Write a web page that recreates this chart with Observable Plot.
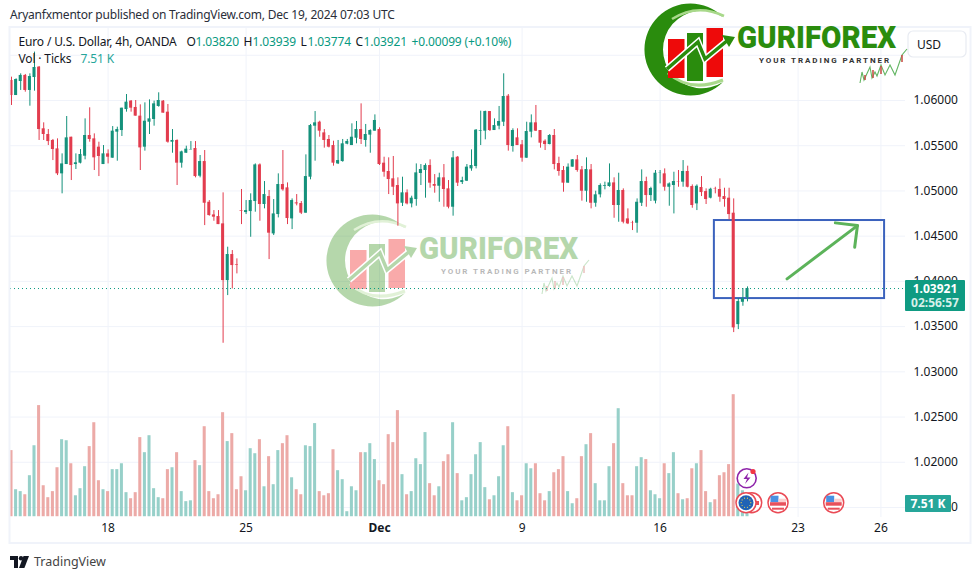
<!DOCTYPE html>
<html><head><meta charset="utf-8">
<script src="https://cdn.jsdelivr.net/npm/d3@7"></script>
<script src="https://cdn.jsdelivr.net/npm/@observablehq/plot@0.6"></script>
<style>
html,body{margin:0;padding:0;background:#fff;width:980px;height:579px;overflow:hidden}
body{font-family:"Noto Sans",sans-serif;color:#131722}
#head{height:26px;box-sizing:border-box;padding:7px 0 0 10px;font-size:12px;line-height:16px;color:#2a2e39;letter-spacing:-.22px}
#foot{height:35px;display:flex;align-items:center;padding-left:10px;font-size:12.5px;color:#444;position:relative}
#foot svg{margin-right:5px}
svg text{font-family:"Noto Sans",sans-serif}
.lg text{letter-spacing:-.15px}
</style></head><body>
<div id="head">Aryanfxmentor published on TradingView.com, Dec 19, 2024 07:03 UTC</div>
<div id="chart"></div>
<div id="foot"><svg width="19" height="12" viewBox="0 0 19 12"><path d="M0 0h8v12H4V4H0z" fill="#131722"/><circle cx="11" cy="2.3" r="2.2" fill="#131722"/><path d="M13.5 0H19l-4.6 12H9z" fill="#131722"/></svg>TradingView</div>
<script>
const highs=[
1.06258,1.06240,1.06295,1.06288,1.06295,1.06535,1.06376,1.05753,1.05679,1.05569,
1.05576,1.05410,1.05823,1.05594,1.05410,1.05458,1.05797,1.05919,1.05631,1.05539,
1.05502,1.05454,1.05712,1.05705,1.05915,1.06066,1.06000,1.06000,1.05952,1.05974,
1.06007,1.05993,1.06085,1.06000,1.05956,1.05679,1.05565,1.05440,1.05495,1.05546,
1.05546,1.05392,1.05447,1.04894,1.04783,1.04783,1.04979,1.04378,1.04341,1.04249,
1.05016,1.04894,1.04968,1.05299,1.05299,1.05104,1.05005,1.04905,1.05189,1.05447,
1.05089,1.04912,1.04960,1.04883,1.05399,1.05735,1.05878,1.05771,1.05679,1.05613,
1.05550,1.05558,1.05569,1.05569,1.05742,1.05768,1.05963,1.05735,1.05676,1.05841,
1.05698,1.05373,1.05366,1.05381,1.05145,1.05152,1.05012,1.04942,1.05299,1.05292,
1.05299,1.05344,1.05181,1.05196,1.05292,1.05115,1.05436,1.05381,1.05152,1.05292,
1.05454,1.05679,1.05882,1.05882,1.05878,1.05797,1.05934,1.06295,1.06066,1.05687,
1.05687,1.05558,1.05760,1.05841,1.05945,1.05668,1.05565,1.05624,1.05679,1.05373,
1.05270,1.05299,1.05347,1.05392,1.05270,1.05366,1.05292,1.04997,1.05078,1.05097,
1.05299,1.05145,1.05196,1.05023,1.04802,1.04665,1.04912,1.05233,1.05152,1.05041,
1.05226,1.05226,1.05244,1.05089,1.05207,1.05226,1.05336,1.05274,1.05067,1.05067,
1.05159,1.05023,1.05030,1.05041,1.05134,1.05030,1.05030,1.04912,1.03810,1.03920,1.03939];
const bodyTops=[
1.06221,1.06232,1.06277,1.06277,1.06265,1.06365,1.06369,1.05687,1.05624,1.05558,
1.05465,1.05299,1.05587,1.05594,1.05311,1.05403,1.05613,1.05613,1.05576,1.05484,
1.05410,1.05410,1.05661,1.05679,1.05915,1.05982,1.05993,1.05923,1.05827,1.05771,
1.05797,1.05963,1.06000,1.05993,1.05871,1.05558,1.05558,1.05432,1.05462,1.05458,
1.05469,1.05325,1.05325,1.04875,1.04735,1.04717,1.04636,1.04297,1.04297,1.04186,
1.04783,1.04783,1.04894,1.05288,1.05288,1.04960,1.04938,1.04746,1.05071,1.05071,
1.05034,1.04894,1.04868,1.04861,1.05159,1.05723,1.05753,1.05760,1.05642,1.05569,
1.05502,1.05336,1.05521,1.05547,1.05594,1.05679,1.05679,1.05624,1.05668,1.05779,
1.05679,1.05307,1.05215,1.05134,1.05060,1.04979,1.04979,1.04920,1.05200,1.05237,
1.05281,1.05281,1.05071,1.05145,1.05145,1.05023,1.05366,1.05373,1.05115,1.05263,
1.05281,1.05672,1.05668,1.05878,1.05878,1.05723,1.05768,1.06044,1.06048,1.05668,
1.05587,1.05510,1.05657,1.05753,1.05753,1.05668,1.05550,1.05613,1.05613,1.05303,
1.05226,1.05263,1.05344,1.05344,1.05233,1.05237,1.05233,1.04957,1.05060,1.05060,
1.05089,1.05089,1.05005,1.05005,1.04691,1.04651,1.04875,1.05104,1.05104,1.05027,
1.05196,1.05196,1.05189,1.05078,1.05104,1.05104,1.05215,1.05215,1.05049,1.05052,
1.05038,1.04993,1.05019,1.05023,1.05016,1.04938,1.04920,1.04754,1.03777,1.03810,1.03921];
const bodyBottoms=[
1.06055,1.06055,1.06210,1.06111,1.06111,1.06254,1.05679,1.05624,1.05546,1.05458,
1.05189,1.05189,1.05292,1.05281,1.05292,1.05307,1.05384,1.05569,1.05366,1.05381,
1.05292,1.05373,1.05362,1.05650,1.05668,1.05900,1.05915,1.05827,1.05476,1.05484,
1.05760,1.05790,1.05934,1.05860,1.05539,1.05539,1.05307,1.05307,1.05417,1.05454,
1.05159,1.05163,1.04864,1.04728,1.04710,1.04628,1.04009,1.04009,1.04175,1.04179,
1.04776,1.04761,1.04772,1.04883,1.04850,1.04850,1.04533,1.04525,1.04739,1.05012,
1.04695,1.04691,1.04857,1.04754,1.04754,1.05152,1.05716,1.05661,1.05558,1.05484,
1.05307,1.05299,1.05325,1.05517,1.05502,1.05583,1.05569,1.05558,1.05617,1.05661,
1.05292,1.05207,1.05126,1.05041,1.04857,1.04864,1.04857,1.04857,1.04905,1.05193,
1.05226,1.05086,1.05052,1.05052,1.05016,1.04820,1.04820,1.05086,1.05093,1.05108,
1.05244,1.05270,1.05661,1.05661,1.05668,1.05668,1.05716,1.05760,1.05502,1.05491,
1.05502,1.05362,1.05362,1.05650,1.05661,1.05528,1.05513,1.05513,1.05292,1.05215,
1.05086,1.05086,1.05263,1.05226,1.04997,1.04997,1.04864,1.04864,1.04957,1.05052,
1.05049,1.04839,1.04839,1.04654,1.04636,1.04647,1.04643,1.04864,1.04949,1.04949,
1.04887,1.05193,1.05041,1.05041,1.05060,1.05100,1.05097,1.05041,1.04839,1.04857,
1.04982,1.04905,1.04920,1.05019,1.04931,1.04905,1.04739,1.03486,1.03522,1.03769,1.03820];
const lows=[
1.05945,1.06055,1.06111,1.06092,1.05937,1.06103,1.05558,1.05558,1.05502,1.05336,
1.05170,1.04968,1.05292,1.05115,1.05237,1.05299,1.05344,1.05539,1.05226,1.05159,
1.05292,1.05299,1.05362,1.05329,1.05602,1.05871,1.05871,1.05827,1.05226,1.05440,
1.05624,1.05716,1.05926,1.05860,1.05528,1.05417,1.05060,1.05252,1.05417,1.05454,
1.05145,1.05145,1.04617,1.04721,1.04665,1.04628,1.03316,1.03843,1.03917,1.04083,
1.04628,1.04739,1.04488,1.04765,1.04665,1.04802,1.04241,1.04507,1.04702,1.04997,
1.04628,1.04573,1.04835,1.04739,1.04754,1.05123,1.05329,1.05594,1.05473,1.05476,
1.05274,1.05292,1.05318,1.05510,1.05502,1.05521,1.05513,1.05484,1.05417,1.05661,
1.05281,1.05152,1.04960,1.04949,1.04610,1.04828,1.04846,1.04813,1.04831,1.05060,
1.04920,1.05030,1.04975,1.04875,1.04820,1.04802,1.04721,1.05049,1.05071,1.05104,
1.05218,1.05244,1.05502,1.05565,1.05657,1.05668,1.05676,1.05712,1.05440,1.05429,
1.05502,1.05318,1.05362,1.05587,1.05657,1.05473,1.05447,1.05510,1.05233,1.05163,
1.04986,1.05086,1.05263,1.05207,1.04887,1.04875,1.04802,1.04820,1.04923,1.05012,
1.05041,1.04698,1.04654,1.04636,1.04628,1.04562,1.04533,1.04828,1.04820,1.04883,
1.04857,1.05078,1.04997,1.04831,1.04746,1.05041,1.05041,1.05034,1.04809,1.04783,
1.04938,1.04850,1.04912,1.04968,1.04875,1.04820,1.04680,1.03434,1.03467,1.03725,1.03774];
// R = close below open, G = close above open
const directions=
"RGGRGGRRRR"+"RGGRGGGRRR"+"GRGGGGRRRG"+"GGGRRGRGGG"+"RGRRRRRGRR"+
"RGGGRGRGGR"+"RGRRGGGRRR"+"RGGGGGRGGG"+"RRRRRGRGGG"+"GRRGRRGRGG"+
"GGGGRGGGRG"+"RRGGRRRGRR"+"RGGRRGRGGG"+"GRGRRRGGRG"+"GGRGGRGRRG"+"RRGRRRRRGGG";
// volume in thousands of ticks
const volumes=[
38.2,15.6,14.5,12.7,23.7,41.0,64.2,17.9,11.0,14.5,
28.3,44.5,43.9,30.6,12.1,16.2,28.9,40.5,54.3,20.8,
15.6,14.5,27.2,27.2,30.6,13.9,10.4,13.9,45.7,37.0,
46.8,16.2,11.0,10.4,27.2,28.3,37.0,14.5,8.7,9.2,
32.4,29.5,52.0,14.5,10.4,12.7,60.1,43.4,48.0,15.6,
23.1,15.0,39.3,36.4,44.5,17.3,34.7,18.5,38.2,42.2,
46.8,22.5,15.6,12.7,41.0,40.5,53.8,14.5,12.1,13.3,
38.7,26.6,21.4,2.9,17.3,15.0,37.0,37.0,42.2,33.0,
20.8,18.5,47.4,42.8,61.3,24.3,12.7,14.5,33.5,30.1,
48.6,19.1,12.1,17.3,31.8,35.8,54.3,24.9,9.2,11.0,
24.3,35.8,42.8,16.8,9.8,12.1,23.1,41.0,52.0,13.9,
9.2,12.1,30.6,27.7,30.6,13.3,9.2,14.5,25.4,27.2,
34.7,14.5,7.5,10.4,34.7,41.6,48.0,19.1,9.2,9.2,
28.9,42.2,62.4,19.1,12.1,12.1,28.9,34.1,33.0,15.0,
12.7,10.4,30.6,24.9,37.0,13.3,9.8,10.4,27.7,30.6,
38.2,14.5,8.1,9.8,23.7,25.4,30.1,70.5,18.9,15.0,7.51];
const priceTicks=[1.06,1.055,1.05,1.045,1.04,1.035,1.03,1.025,1.02,1.015];
const gridPrices=[1.065,...priceTicks];
const dayIndex=[21,51,80,111,141,171,189];
const dayLabels=["18","25","Dec","9","16","23","26"];
const lastPrice=1.03921;
const boxX=[152.8,189.8], boxY=[1.0381,1.04673];
const arrowShaft=[{x:168.6,y:1.04028},{x:183.9,y:1.04617}];
const arrowHead=[{x:179.1,y:1.04647},{x:183.9,y:1.04617},{x:183.3,y:1.04377}];
const volBase=1.01398, volUnit=0.0001914;

const GREEN="#14917b", RED="#e23c4e", VGREEN="#97d0c9", VRED="#ecaaa7", GRID="#f0f3fa", PAGE_TOP=26;
const rows=highs.map((h,i)=>({i,high:h,top:bodyTops[i],bottom:bodyBottoms[i],low:lows[i],vol:volumes[i],up:directions[i]==="G"}));
const halfBar=0.33;

function candles(filter,color){return [
  Plot.ruleX(rows.filter(filter),{x:"i",y1:"low",y2:"high",stroke:color,strokeWidth:1}),
  Plot.rect(rows.filter(filter),{x1:d=>d.i-halfBar,x2:d=>d.i+halfBar,y1:"bottom",y2:"top",fill:color})
];}
function volBars(filter,color){return Plot.rect(rows.filter(filter),{x1:d=>d.i-halfBar,x2:d=>d.i+halfBar,y1:()=>volBase,y2:d=>volBase+d.vol*volUnit,fill:color});}

function drawLogo(g){
  g.attr("text-anchor","start");
  g.append("path").attr("d","M723 17A46 46 0 1 0 723 82A38.8 38.8 0 1 1 723 17Z").attr("fill","#2a8c0d");
  g.append("path").attr("d","M672 19Q697 3 724 16").attr("fill","none").attr("stroke","#a9d98b").attr("stroke-width",2.5);
  g.append("path").attr("d","M668 73Q690 93 723 80").attr("fill","none").attr("stroke","#a9d98b").attr("stroke-width",3);
  g.append("rect").attr("x",668).attr("y",39).attr("width",16.5).attr("height",39).attr("fill","#ee0a0a");
  g.append("rect").attr("x",687).attr("y",33).attr("width",16).attr("height",48).attr("fill","#2a8c0d");
  g.append("rect").attr("x",706.5).attr("y",28).attr("width",16.5).attr("height",49).attr("fill","#ee0a0a");
  const zig="M667 69L698 42L705 59L728 40";
  g.append("path").attr("d",zig).attr("fill","none").attr("stroke","#fff").attr("stroke-width",6.5);
  g.append("path").attr("d",zig).attr("fill","none").attr("stroke","#2a8c0d").attr("stroke-width",3.5);
  g.append("path").attr("d","M722 35L735 37L729 47Z").attr("fill","#2a8c0d");
  g.append("text").text("GURIFOREX").attr("x",737).attr("y",48).attr("textLength",159).attr("lengthAdjust","spacingAndGlyphs")
    .style("font-family","Roboto,sans-serif").style("font-weight",900).style("font-size","31px").attr("fill","#2a8c0d");
  g.append("text").text("YOUR TRADING PARTNER").attr("x",759).attr("y",63).attr("textLength",130)
    .style("font-family","Roboto,sans-serif").style("font-weight",700).style("font-size","8px").attr("fill","#333");
  g.append("path").attr("d","M860 83L862 72L864 80L870 67L872 78L875 72L877 76L881 65L885 75L890 65L895 75L902 55L907 49")
    .attr("fill","none").attr("stroke","#62b562").attr("stroke-width",1.1);
  [[865,75,80],[873,70,78],[881,66,74],[902,55,62]].forEach(([x,a,b])=>g.append("line").attr("x1",x).attr("x2",x).attr("y1",a).attr("y2",b).attr("stroke","#c8524a").attr("stroke-width",1.6));
}
function layer(fn){return (index,scales,values,dimensions)=>{const g=d3.create("svg:g");fn(g,scales,dimensions);return g.node();};}

const watermark=layer((g)=>{const w=g.append("g").attr("transform",`translate(-318,${211-PAGE_TOP})`).attr("opacity",.34);drawLogo(w);});
const topLogo=layer((g)=>{const w=g.append("g").attr("transform",`translate(0,${-PAGE_TOP})`);drawLogo(w);});
const frame=layer((g,s,d)=>{g.append("rect").attr("x",9.5).attr("y",1).attr("width",961).attr("height",d.height-2).attr("fill","none").attr("stroke",GRID).attr("stroke-width",2);});

function usFlag(g,cx,cy){
  g.append("circle").attr("cx",cx).attr("cy",cy).attr("r",10).attr("fill","#fff").attr("stroke","#ea4a55").attr("stroke-width",1.5);
  g.append("rect").attr("x",cx-7.5).attr("y",cy-7).attr("width",8).attr("height",6.5).attr("fill","#4a90e2");
  g.append("rect").attr("x",cx+.5).attr("y",cy-4).attr("width",7.5).attr("height",3.5).attr("fill","#fbd0d0");
  g.append("rect").attr("x",cx-8).attr("y",cy-.5).attr("width",16).attr("height",3.5).attr("fill","#e8505b");
  g.append("rect").attr("x",cx-6).attr("y",cy+5).attr("width",12).attr("height",2).attr("fill","#e8505b");
}
const icons=layer((g)=>{
  const Y=y=>y-PAGE_TOP;
  g.append("circle").attr("cx",746.7).attr("cy",Y(478.3)).attr("r",9.5).attr("fill","#fff").attr("stroke","#8e24aa").attr("stroke-width",1.6);
  g.append("path").attr("d",`M748.5 ${Y(472.5)}L743.5 ${Y(479)}H747L745 ${Y(484)}L750.5 ${Y(477.5)}H747Z`).attr("fill","#8e24aa");
  g.append("circle").attr("cx",753).attr("cy",Y(471.5)).attr("r",2.6).attr("fill","#f23645");
  g.append("circle").attr("cx",751.7).attr("cy",Y(502.7)).attr("r",10).attr("fill","#fff").attr("stroke","#ea4a55").attr("stroke-width",1.5);
  g.append("rect").attr("x",752).attr("y",Y(501)).attr("width",7).attr("height",4).attr("fill","#e8505b");
  g.append("circle").attr("cx",746).attr("cy",Y(502.7)).attr("r",10).attr("fill","#fff").attr("stroke","#ea4a55").attr("stroke-width",1.5);
  g.append("circle").attr("cx",746).attr("cy",Y(502.7)).attr("r",7.5).attr("fill","#1f63b5");
  d3.range(10).forEach(k=>g.append("circle").attr("cx",746+4.8*Math.cos(k*Math.PI/5)).attr("cy",Y(502.7)+4.8*Math.sin(k*Math.PI/5)).attr("r",.6).attr("fill","#f6d64a"));
  usFlag(g,778,Y(502.7)); usFlag(g,833.7,Y(502.7));
});
const badges=layer((g,s)=>{
  const Y=y=>y-PAGE_TOP;
  g.append("rect").attr("x",905).attr("y",Y(280)).attr("width",60).attr("height",31).attr("rx",1).attr("fill","#0f9b82");
  g.append("text").text("1.03921").attr("x",935).attr("y",Y(293)).attr("text-anchor","middle").attr("fill","#fff").style("font-size","12px").style("font-weight",700);
  g.append("text").text("02:56:57").attr("x",935).attr("y",Y(307)).attr("text-anchor","middle").attr("fill","#d6f0ea").style("font-size","12px").style("font-weight",700);
  g.append("rect").attr("x",905).attr("y",Y(495)).attr("width",46).attr("height",17).attr("rx",1).attr("fill","#26a69a");
  g.append("text").text("7.51 K").attr("x",928).attr("y",Y(508)).attr("text-anchor","middle").attr("fill","#fff").style("font-size","12px").style("font-weight",700);
  g.append("rect").attr("x",908).attr("y",Y(31)).attr("width",58).attr("height",26).attr("rx",5).attr("fill","#fff").attr("stroke","#e8ebf2").attr("stroke-width",1.2);
  g.append("text").text("USD").attr("x",917).attr("y",Y(48.5)).attr("text-anchor","start").attr("fill","#131722").style("font-size","12px");
});

const legend=[
 {dx:8,dy:9,t:"Euro / U.S. Dollar, 4h, OANDA",c:"#131722"},
 {dx:176,dy:9,t:"O",c:"#131722"},{dx:185,dy:9,t:"1.03820",c:"#089981"},
 {dx:233,dy:9,t:"H",c:"#131722"},{dx:242,dy:9,t:"1.03939",c:"#089981"},
 {dx:290,dy:9,t:"L",c:"#131722"},{dx:297,dy:9,t:"1.03774",c:"#089981"},
 {dx:345,dy:9,t:"C",c:"#131722"},{dx:353,dy:9,t:"1.03921",c:"#089981"},
 {dx:401,dy:9,t:"+0.00099 (+0.10%)",c:"#089981"},
 {dx:8,dy:26,t:"Vol · Ticks",c:"#131722"},{dx:70,dy:26,t:"7.51 K",c:"#26a69a"}
];

const plot=Plot.plot({
  width:980,height:518,marginLeft:10,marginRight:75,marginTop:2,marginBottom:27,
  style:{overflow:"visible",background:"transparent",fontFamily:'"Noto Sans",sans-serif'},
  x:{type:"linear",domain:[0,161],range:[11,11+161*4.6],axis:null},
  y:{type:"linear",domain:[1.06,1.015],range:[100-PAGE_TOP,507-PAGE_TOP],axis:null},
  marks:[
    Plot.gridY(gridPrices,{stroke:GRID,strokeOpacity:1}),
    Plot.gridX(dayIndex,{stroke:GRID,strokeOpacity:1}),
    watermark,
    volBars(d=>d.up,VGREEN),
    volBars(d=>!d.up,VRED),
    Plot.ruleY([lastPrice],{stroke:"#089981",strokeDasharray:"1,3",strokeWidth:1}),
    Plot.rect([0],{x1:()=>boxX[0],x2:()=>boxX[1],y1:()=>boxY[0],y2:()=>boxY[1],fill:"none",stroke:"#3b62bd",strokeWidth:2}),
    ...candles(d=>d.up,GREEN),
    ...candles(d=>!d.up,RED),
    Plot.line(arrowShaft,{x:"x",y:"y",stroke:"#5cb35a",strokeWidth:3,strokeLinecap:"round"}),
    Plot.line(arrowHead,{x:"x",y:"y",stroke:"#5cb35a",strokeWidth:3,strokeLinecap:"round",strokeLinejoin:"round"}),
    Plot.axisY(priceTicks,{anchor:"right",tickSize:0,tickPadding:8,tickFormat:d=>d.toFixed(5),fontSize:12,label:null,fill:"#131722"}),
    Plot.axisX(dayIndex.filter((_,k)=>dayLabels[k]!=="Dec"),{anchor:"bottom",tickSize:0,tickPadding:6,tickFormat:d=>dayLabels[dayIndex.indexOf(d)],fontSize:12,label:null,fill:"#131722"}),
    Plot.axisX(dayIndex.filter((_,k)=>dayLabels[k]==="Dec"),{anchor:"bottom",tickSize:0,tickPadding:6,tickFormat:d=>dayLabels[dayIndex.indexOf(d)],fontSize:12,fontWeight:700,label:null,fill:"#131722"}),
    ...legend.map(l=>Plot.text([l.t],{frameAnchor:"top-left",dx:l.dx,dy:l.dy,text:d=>d,textAnchor:"start",lineAnchor:"top",fill:l.c,fontSize:12,className:"lg"})),
    icons,
    frame,
    badges,
    topLogo
  ]
});
document.getElementById("chart").appendChild(plot);
</script>
</body></html>
